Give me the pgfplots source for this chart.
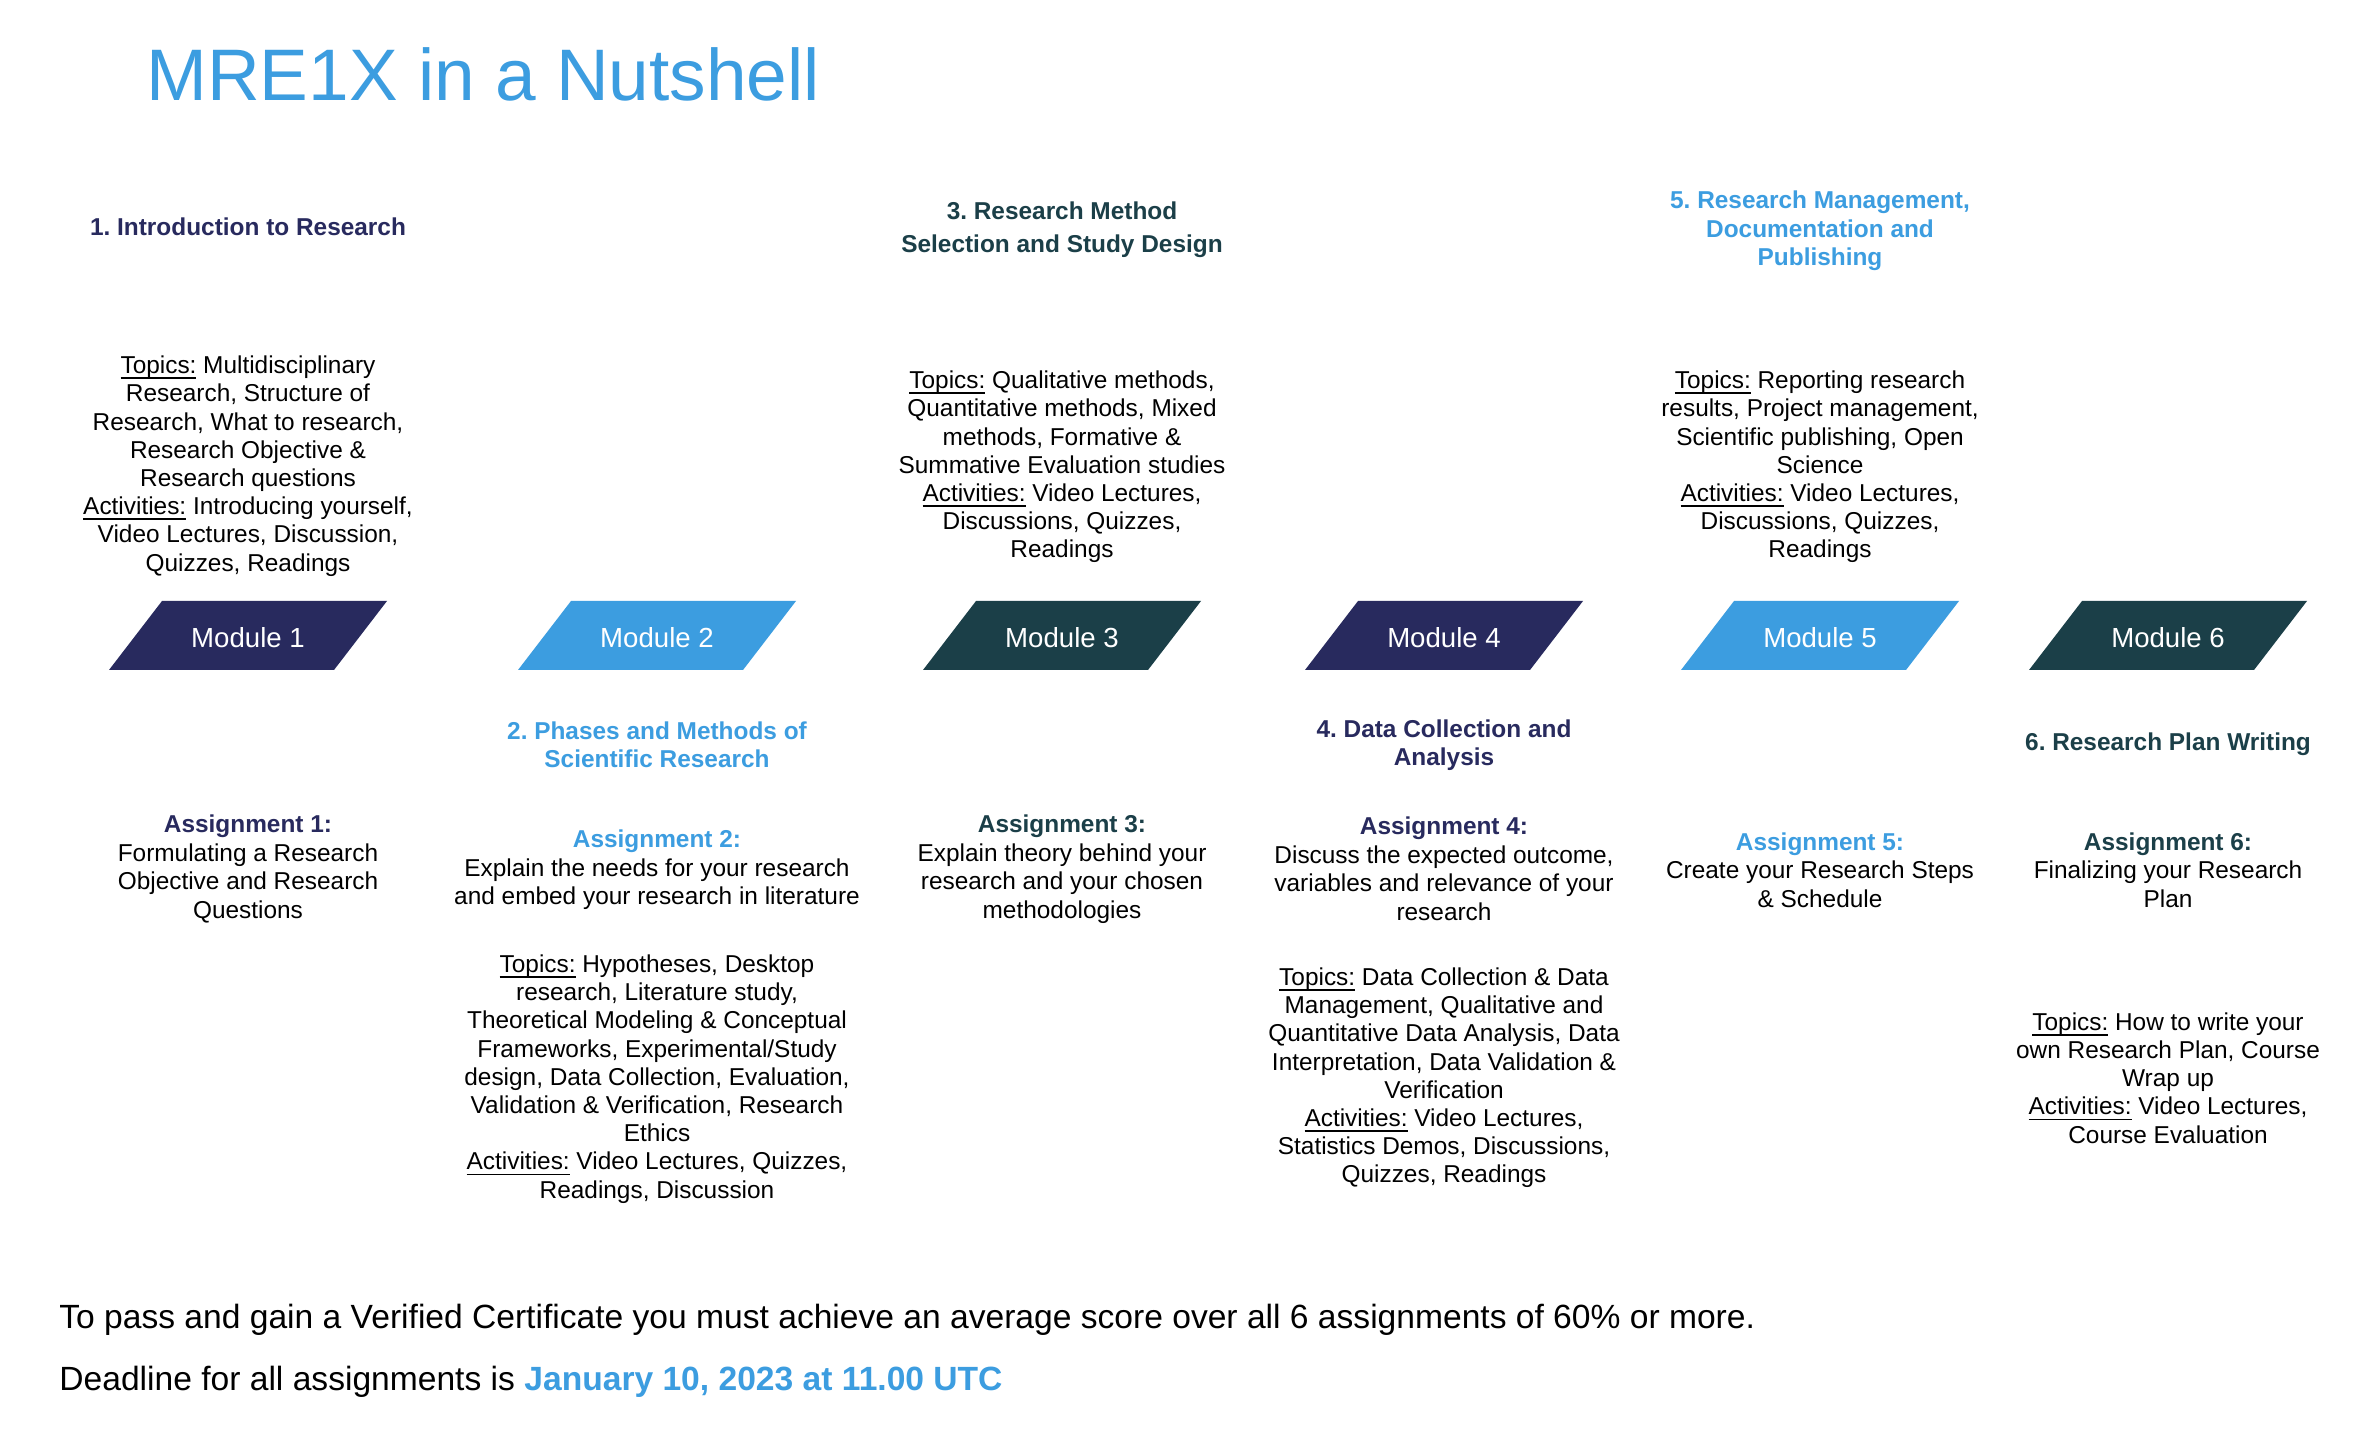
\documentclass[border=0pt]{standalone}
\usepackage{pgfplots}
\pgfplotsset{compat=1.18}
\usepackage{fontspec}
\setmainfont{Liberation Sans}
\frenchspacing
\definecolor{navy}{HTML}{282A5E}
\definecolor{lblue}{HTML}{3C9DE0}
\definecolor{dteal}{HTML}{1B3F48}
\newcommand\bodyfont{\fontsize{12.2}{14.1}\selectfont}
\newcommand\headfont{\fontsize{12.2}{14.25}\selectfont\bfseries}
\newcommand\ul[1]{\setbox0\hbox{#1}\rlap{\rule[-0.22em]{\wd0}{0.07em}}#1}
\begin{document}
\begin{tikzpicture}
\begin{axis}[width=1178pt,height=723pt,scale only axis,
  xmin=0,xmax=2356,ymin=0,ymax=1446,y dir=reverse,
  hide axis,clip=false]
\addplot[fill=white,draw=none] coordinates {(0,0) (2356,0) (2356,1446) (0,1446)} -- cycle;
% module parallelograms
\addplot[fill=navy,draw=none]  coordinates {(109,670) (334,670) (387,601) (162,601)} -- cycle;
\addplot[fill=lblue,draw=none] coordinates {(518,670) (743,670) (796,601) (571,601)} -- cycle;
\addplot[fill=dteal,draw=none] coordinates {(923,670) (1148,670) (1201,601) (976,601)} -- cycle;
\addplot[fill=navy,draw=none]  coordinates {(1305,670) (1530,670) (1583,601) (1358,601)} -- cycle;
\addplot[fill=lblue,draw=none] coordinates {(1681,670) (1906,670) (1959,601) (1734,601)} -- cycle;
\addplot[fill=dteal,draw=none] coordinates {(2029,670) (2254,670) (2307,601) (2082,601)} -- cycle;
% module labels
\foreach \c/\n in {248/1,657/2,1062/3,1444/4,1820/5,2168/6}{
  \edef\tmp{\noexpand\node[inner sep=0,text=white,font=\noexpand\fontsize{13.8}{16}\noexpand\selectfont] at (axis cs:\c,638) {Module \n};}
  \tmp
}
% title
\node[anchor=base west,inner sep=0,text=lblue,font=\fontsize{36.5}{40}\selectfont] at (axis cs:146,100) {MRE1X in a Nutshell};
% top headings
\node[inner sep=0,align=center,text=navy,font=\headfont] at (axis cs:248,227) {1. Introduction to Research};
\node[inner sep=0,align=center,text=dteal,font=\fontsize{12.2}{16.5}\selectfont\bfseries] at (axis cs:1062,230) {3. Research Method\\Selection and Study Design};
\node[inner sep=0,align=center,text=lblue,font=\headfont] at (axis cs:1820,231) {5. Research Management,\\Documentation and\\Publishing};
% top topics
\node[inner sep=0,align=center,font=\bodyfont] at (axis cs:248,466) {\ul{Topics:} Multidisciplinary\\Research, Structure of\\Research, What to research,\\Research Objective \&\\Research questions\\\ul{Activities:} Introducing yourself,\\Video Lectures, Discussion,\\Quizzes, Readings};
\node[inner sep=0,align=center,font=\bodyfont] at (axis cs:1062,467) {\ul{Topics:} Qualitative methods,\\Quantitative methods, Mixed\\methods, Formative \&\\Summative Evaluation studies\\\ul{Activities:} Video Lectures,\\Discussions, Quizzes,\\Readings};
\node[inner sep=0,align=center,font=\bodyfont] at (axis cs:1820,467) {\ul{Topics:} Reporting research\\results, Project management,\\Scientific publishing, Open\\Science\\\ul{Activities:} Video Lectures,\\Discussions, Quizzes,\\Readings};
% bottom headings
\node[inner sep=0,align=center,text=lblue,font=\headfont] at (axis cs:657,745) {2. Phases and Methods of\\Scientific Research};
\node[inner sep=0,align=center,text=navy,font=\headfont] at (axis cs:1444,745) {4. Data Collection and\\Analysis};
\node[inner sep=0,align=center,text=dteal,font=\headfont] at (axis cs:2168,744) {6. Research Plan Writing};
% assignments
\node[inner sep=0,align=center,font=\fontsize{12.2}{14.25}\selectfont] at (axis cs:248,869) {{\bfseries\color{navy}Assignment 1:}\\Formulating a Research\\Objective and Research\\Questions};
\node[inner sep=0,align=center,font=\fontsize{12.2}{14.25}\selectfont] at (axis cs:657,870) {{\bfseries\color{lblue}Assignment 2:}\\Explain the needs for your research\\and embed your research in literature};
\node[inner sep=0,align=center,font=\fontsize{12.2}{14.25}\selectfont] at (axis cs:1062,869) {{\bfseries\color{dteal}Assignment 3:}\\Explain theory behind your\\research and your chosen\\methodologies};
\node[inner sep=0,align=center,font=\fontsize{12.2}{14.25}\selectfont] at (axis cs:1444,869) {{\bfseries\color{navy}Assignment 4:}\\Discuss the expected outcome,\\variables and relevance of your\\research};
\node[inner sep=0,align=center,font=\fontsize{12.2}{14.25}\selectfont] at (axis cs:1820,870) {{\bfseries\color{lblue}Assignment 5:}\\Create your Research Steps\\\& Schedule};
\node[inner sep=0,align=center,font=\fontsize{12.2}{14.25}\selectfont] at (axis cs:2168,870) {{\bfseries\color{dteal}Assignment 6:}\\Finalizing your Research\\Plan};
% lower topics
\node[inner sep=0,align=center,font=\bodyfont] at (axis cs:657,1079) {\ul{Topics:} Hypotheses, Desktop\\research, Literature study,\\Theoretical Modeling \& Conceptual\\Frameworks, Experimental/Study\\design, Data Collection, Evaluation,\\Validation \& Verification, Research\\Ethics\\\ul{Activities:} Video Lectures, Quizzes,\\Readings, Discussion};
\node[inner sep=0,align=center,font=\bodyfont] at (axis cs:1444,1078) {\ul{Topics:} Data Collection \& Data\\Management, Qualitative and\\Quantitative Data Analysis, Data\\Interpretation, Data Validation \&\\Verification\\\ul{Activities:} Video Lectures,\\Statistics Demos, Discussions,\\Quizzes, Readings};
\node[inner sep=0,align=center,font=\bodyfont] at (axis cs:2168,1078) {\ul{Topics:} How to write your\\own Research Plan, Course\\Wrap up\\\ul{Activities:} Video Lectures,\\Course Evaluation};
% bottom lines
\node[anchor=west,inner sep=0,font=\fontsize{16.8}{19}\selectfont] at (axis cs:59,1320) {To pass and gain a Verified Certificate you must achieve an average score over all 6 assignments of 60\% or more.};
\node[anchor=west,inner sep=0,font=\fontsize{16.8}{19}\selectfont] at (axis cs:59,1382) {Deadline for all assignments is {\bfseries\color{lblue}January 10, 2023 at 11.00 UTC}};
\end{axis}
\end{tikzpicture}
\end{document}
